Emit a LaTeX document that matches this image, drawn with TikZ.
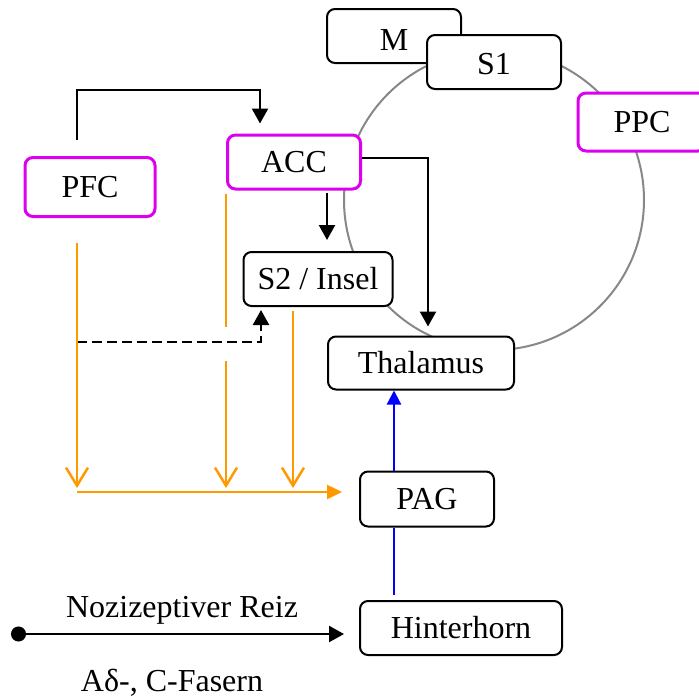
\documentclass[tikz,border=0pt]{standalone}
\usepackage{fontspec}
\setmainfont{Liberation Serif}
\usetikzlibrary{arrows.meta,calc}
\definecolor{lila}{RGB}{221,0,238}
\definecolor{orng}{RGB}{255,153,0}
\definecolor{ring}{RGB}{136,136,136}

\begin{document}
\begin{tikzpicture}[x=1pt,y=-1pt]
		\tikzset{
			lbl/.style={font=\fontsize{32}{38}\selectfont},
			box/.style={lbl, draw, fill=white, line width=2pt, rounded corners=8pt,
					minimum width=134pt, minimum height=54pt, inner sep=0pt,
					text height=21pt, text depth=0pt},
			cbox/.style={box, draw=lila, line width=3pt},
			arr/.style={line width=2.3pt, -{Triangle[length=15pt,width=16pt]}},
			oline/.style={draw=orng, line width=2.5pt},
			oarr/.style={oline, -{Straight Barb[length=18pt,width=22pt]}},
			barr/.style={draw=blue, line width=2.3pt},
		}
		\useasboundingbox (0,0) rectangle (699,699);
		\draw[ring, line width=2pt] (494,200) circle (150pt);
		%
		\node[box, text height=28pt] (m) at (394,36) {M};
		\node[box, text height=25pt] (s1) at (494,62) {S1};
		\node[cbox, minimum width=128pt, minimum height=58pt] (ppc) at (642,122) {PPC};
		\node[cbox, minimum width=130pt, minimum height=59pt] (pfc) at (90,187) {PFC};
		\node[cbox, minimum width=133pt] (acc) at (294,162) {ACC};
		\node[box, minimum width=149pt] (s2) at (318,279) {S2 / Insel};
		\node[box, minimum width=186pt, minimum height=53pt] (thal) at (421,363) {Thalamus};
		\node[box, minimum height=55pt] (pag) at (427,499) {PAG};
		\node[box, minimum width=202pt] (hh) at (461,628) {Hinterhorn};
		\coordinate (d0) at (77,342);
		\coordinate (o0) at (77,492);
		\coordinate (r0) at (11,634);
		%
		\draw[arr, shorten <=16pt, shorten >=10pt] ([xshift=-13pt]pfc.north) -- ++(0,-66) -| ([xshift=-34pt]acc.north);
		\draw[arr, shorten >=9pt] ([yshift=4pt]acc.east) -| ([xshift=7pt]thal.north);
		\draw[arr, shorten <=2pt, shorten >=11pt] ([xshift=33pt]acc.south) -- ([xshift=33pt]acc.south |- s2.north);
		\draw[arr, dash pattern=on 10pt off 5pt, shorten >=3pt] (d0) -| ([xshift=-57pt]s2.south);
		%
		\draw[oarr, shorten <=25pt, shorten >=4pt] ([xshift=-13pt]pfc.south) -- ([xshift=-13pt]pfc.south |- o0);
		\draw[oline, shorten <=3pt] (acc.south west) -- ++(0,136);
		\draw[oarr, shorten <=170pt, shorten >=4pt] (acc.south west) -- (acc.south west |- o0);
		\draw[oarr, shorten <=4pt, shorten >=4pt] ([xshift=-25pt]s2.south) -- ([xshift=-25pt]s2.south |- o0);
		\draw[oline, -{Triangle[length=15pt,width=14pt]}, shorten >=17pt] (o0) -- (o0 -| pag.west);
		%
		\draw[barr, -{Triangle[length=14pt,width=14pt]}] ([xshift=-33pt]pag.north) -- ([xshift=-33pt]pag.north |- thal.south);
		\draw[barr, shorten <=5pt] ([xshift=-67pt]hh.north) -- ([xshift=-67pt]hh.north |- pag.south);
		%
		\draw[arr, {Circle[length=15pt]}-{Triangle[length=15pt,width=16pt]}, shorten >=15pt] (r0) -- (r0 -| hh.west);
		\node[lbl, anchor=base] (reiz) at (182,617) {Nozizeptiver Reiz};
		\node[lbl, anchor=base] (fasern) at (172,691) {Aδ-, C-Fasern};
	\end{tikzpicture}
\end{document}
